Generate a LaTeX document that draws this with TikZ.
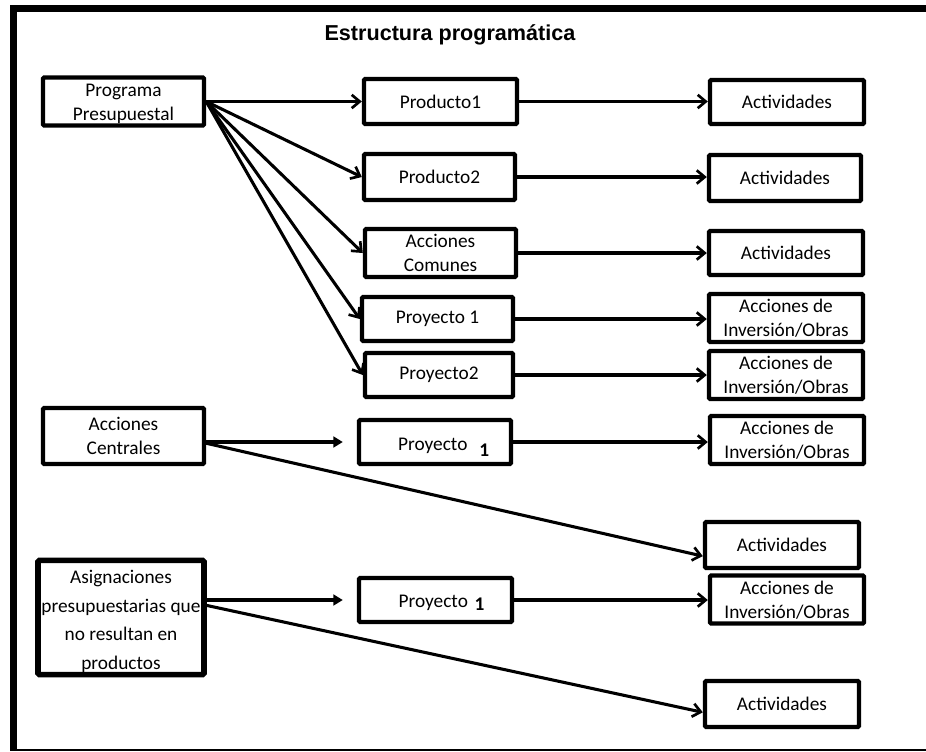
\documentclass[tikz,border=0pt]{standalone}
\usepackage{fontspec}
\setmainfont{Carlito}
\newfontfamily\titlefont{Liberation Sans}
\usetikzlibrary{arrows.meta}
\newcommand{\twolines}[2]{\raisebox{-1.5pt}[\height][\depth]{\begin{tabular}{@{}c@{}}#1\\#2\end{tabular}}}
\newcommand{\lowered}[2]{\raisebox{#1}[\height][\depth]{#2}}
\begin{document}
\begin{tikzpicture}[x=0.75pt,y=-0.75pt,
  box/.style={draw, line width=3.3pt, rounded corners=1pt, inner sep=0pt, align=center,
    font=\fontsize{14.5}{18}\selectfont},
  sz/.style 2 args={minimum width=#1*0.75pt, minimum height=#2*0.75pt},
  conn/.style={line width=2.3pt, -{Straight Barb[length=6pt,width=10pt,line width=2pt]}},
  fconn/.style={line width=2.3pt, -{Triangle[length=7pt,width=8pt]}, shorten >=10.5pt},
  frame/.style={line width=5.25pt}
]
\useasboundingbox (0,0) rectangle (926,751);
\coordinate (ftl) at (13.5,8.5);
\coordinate (ftr) at (926,8.5);
\coordinate (fbl) at (13.5,751);
\coordinate (fbl2) at (17,749.5);
\coordinate (fbr) at (926,749.5);
\draw[frame] (10,8.5) -- (ftr);
\draw[frame] (ftl) -- (fbl);
\draw[line width=1.5pt] (fbl2) -- (fbr);

\node (title) at (450,35) {\titlefont\bfseries\fontsize{16.2}{19}\selectfont Estructura programática};

\node[box, sz={161}{45}] (prog) at (123.5,101.5) {\twolines{Programa}{Presupuestal}};
\node[box, sz={153}{45}] (p1) at (440.5,101.5) {Producto1};
\node[box, sz={154}{44}] (a1) at (787,102) {Actividades};
\node[box, sz={151}{46}] (p2) at (439.5,177) {Producto2};
\node[box, sz={152}{46}] (a2) at (785,178) {Actividades};
\node[box, sz={151}{44}] (ac) at (440.5,253) {\twolines{Acciones}{Comunes}};
\node[box, sz={154}{44}] (a3) at (786,253) {Actividades};
\node[box, sz={151}{44}] (py1) at (437.5,319) {Proyecto 1};
\node[box, sz={154}{44}] (i1) at (786,318) {\twolines{Acciones de}{Inversión/Obras}};
\node[box, sz={148}{44}] (py2) at (439,375) {Proyecto2};
\node[box, sz={154}{44}] (i2) at (786,375) {\twolines{Acciones de}{Inversión/Obras}};
\node[box, sz={161}{56}] (cen) at (123.5,436) {\twolines{Acciones}{Centrales}};
\node[box, sz={152}{44}] (py3) at (435,442) {\lowered{-2.5pt}{\hspace*{13pt}Proyecto\hspace{9pt}\lowered{-4.5pt}{\textbf{1}}}};
\node[box, sz={154}{46}] (i3) at (787,440) {\twolines{Acciones de}{Inversión/Obras}};
\node[box, sz={154}{46}] (a4) at (782,545) {Actividades};
\node[box, sz={166}{113}, line width=4.2pt, font=\fontsize{14.5}{21.4}\selectfont] (asig) at (121,617.5)
  {\lowered{-2.5pt}{\begin{tabular}{@{}c@{}}Asignaciones\\presupuestarias que\\no resultan en\\productos\end{tabular}}};
\node[box, sz={153}{44}] (py4) at (435.5,600) {\lowered{-2pt}{\hspace*{9pt}Proyecto\hspace{5pt}\lowered{-2.5pt}{\textbf{1}}}};
\node[box, sz={154}{45}] (i4) at (787,599.5) {\twolines{Acciones de}{Inversión/Obras}};
\node[box, sz={154}{46}] (a5) at (782,704) {Actividades};

\draw[conn] (prog.east) -- (p1.west);
\draw[conn] (prog.east) -- (p2.west);
\draw[conn] (prog.east) -- (ac.west);
\draw[conn] (prog.east) -- (py1.west);
\draw[conn] (prog.east) -- (py2.west);

\draw[conn] (p1.east) -- (p1.east -| a1.west);
\draw[conn] (p2.east) -- (p2.east -| a2.west);
\draw[conn] (ac.east) -- (ac.east -| a3.west);
\draw[conn] (py1.east) -- (py1.east -| i1.west);
\draw[conn] (py2.east) -- (py2.east -| i2.west);
\draw[conn] (py3.east) -- (py3.east -| i3.west);
\draw[conn] (py4.east) -- (py4.east -| i4.west);

\draw[fconn] (cen.east |- py3.west) -- (py3.west);
\draw[conn] (cen.-5.7) -- (a4.188);
\draw[fconn] (asig.east |- py4.west) -- (py4.west);
\draw[conn] (asig.8.6) -- (a5.186.5);
\end{tikzpicture}
\end{document}
